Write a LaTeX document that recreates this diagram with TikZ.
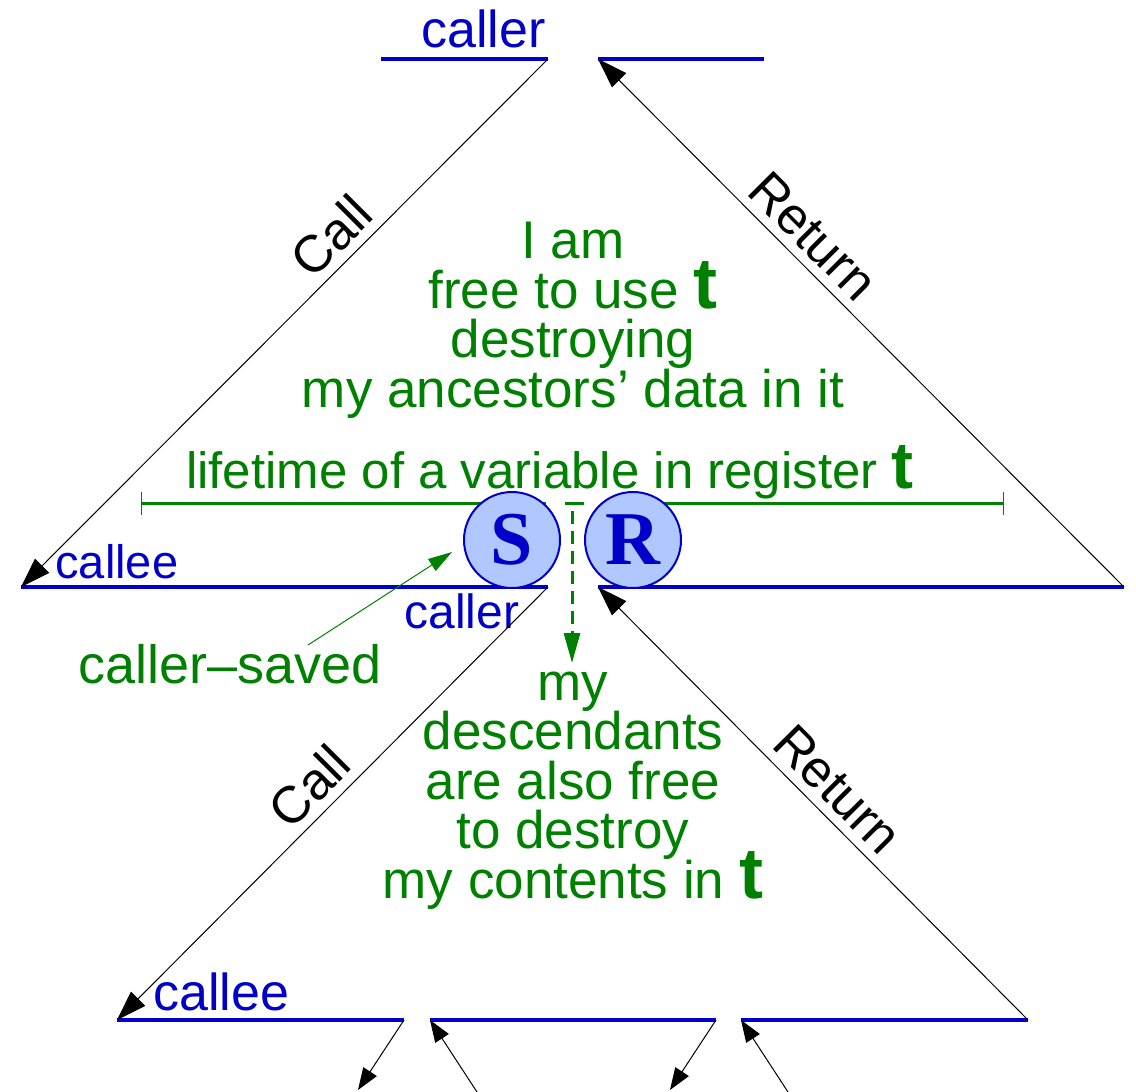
\documentclass[tikz,border=0pt]{standalone}
\usepackage{fontspec}
\setmainfont{Liberation Sans}
\newfontfamily\regserif{Liberation Serif}
\usepackage{xcolor}
\definecolor{FrameBlue}{RGB}{0,0,200}
\definecolor{NoteGreen}{RGB}{0,128,0}
\definecolor{RegFill}{RGB}{176,200,255}
\usetikzlibrary{arrows.meta}
\newcommand\regt[1][36]{\smash{\fontsize{#1}{#1}\selectfont\bfseries t}}

\begin{document}
\begin{tikzpicture}[
  x=0.5pt,y=-0.5pt,
  frame/.style={draw=FrameBlue,line width=2pt},
  flow/.style={{Triangle[length=15pt,width=10pt]}-,line width=0.5pt},
  stub/.style={-{Triangle[length=11pt,width=8pt]},line width=0.5pt},
  lbl/.style={font=\fontsize{26}{28}\selectfont,sloped,above,inner sep=4.5pt},
  who/.style={text=FrameBlue,inner sep=0pt,anchor=base west},
  note/.style={text=NoteGreen,font=\fontsize{26.5}{24.75}\selectfont,align=center,inner sep=0pt,anchor=base},
  life/.style={draw=NoteGreen,line width=1.5pt},
  reg/.style={circle,draw=FrameBlue,fill=RegFill,line width=1pt,minimum size=48pt,inner sep=0pt,text=FrameBlue,font=\regserif\bfseries\fontsize{38}{38}\selectfont}
]
\useasboundingbox (0,0) rectangle (1136,1092);

% stack frames
\coordinate (topL) at (381,59);
\coordinate (topA) at (548,59);
\coordinate (topB) at (598,59);
\coordinate (topR) at (764,59);
\coordinate (midL) at (21,587);
\coordinate (midA) at (548,587);
\coordinate (midB) at (598,587);
\coordinate (midR) at (1124,587);
\coordinate (botL) at (117,1020);
\coordinate (botA) at (404,1020);
\coordinate (botB) at (430,1020);
\coordinate (botC) at (716,1020);
\coordinate (botD) at (741,1020);
\coordinate (botR) at (1028,1020);
\coordinate (s1) at (358,1090);
\coordinate (s2) at (477,1092);
\coordinate (s3) at (670,1090);
\coordinate (s4) at (788,1092);

\draw[frame] (topL) -- (topA);
\draw[frame] (topB) -- (topR);
\draw[frame] (midL) -- (midA);
\draw[frame] (midB) -- (midR);
\draw[frame] (botL) -- (botA);
\draw[frame] (botB) -- (botC);
\draw[frame] (botD) -- (botR);

\node[who,font=\fontsize{26}{28}\selectfont] (callerTop) at (421,47) {caller};
\node[who,font=\fontsize{23.5}{28}\selectfont] (calleeMid) at (55,578) {callee};
\node[who,font=\fontsize{24}{28}\selectfont] (callerMid) at (404,628) {caller};
\node[who,font=\fontsize{26}{28}\selectfont] (calleeBot) at (153,1010) {callee};

% calls and returns
\draw[flow] (midL) -- node[lbl,pos=0.627] {Call} (topA);
\draw[flow] (topB) -- node[lbl,pos=0.372] {Return} (midR);
\draw[flow] (botL) -- node[lbl,pos=0.493] {Call} (midA);
\draw[flow] (midB) -- node[lbl,pos=0.512] {Return} (botR);
\draw[stub] (botA) -- (s1);
\draw[stub] (s2) -- (botB);
\draw[stub] (botC) -- (s3);
\draw[stub] (s4) -- (botD);

% lifetime of t
\coordinate (lifeL) at (141,503);
\coordinate (lifeSL) at (546,503);
\coordinate (dashL) at (565,503);
\coordinate (dashR) at (584,503);
\coordinate (lifeSR) at (602,503);
\coordinate (lifeR) at (1004,503);
\coordinate (dropA) at (572,511);
\coordinate (dropB) at (572,663);
\draw[life,{Bar[width=11.5pt,line width=0.5pt]}-] (lifeL) -- (lifeSL);
\draw[life] (dashL) -- (dashR);
\draw[life,-{Bar[width=11.5pt,line width=0.5pt]}] (lifeSR) -- (lifeR);
\draw[life,dash pattern=on 6.5pt off 3.5pt,-{Triangle[length=15pt,width=8pt]}] (dropA) -- (dropB);

\node[note] (freeNote) at (573,407) {I am\\free to use \regt\\destroying\\my ancestors’ data in it};
\node[note,font=\fontsize{25.5}{24.75}\selectfont] (lifeNote) at (550,488) {lifetime of a variable in register \regt[33]};
\node[note] (descNote) at (573,898) {my\\descendants\\are also free\\to destroy\\my contents in \regt};
\node[note,font=\fontsize{27}{24.75}\selectfont] (savedNote) at (230,683) {caller–saved};

\coordinate (saveTail) at (308,645);
\coordinate (saveTip) at (452,552);
\draw[draw=NoteGreen,line width=0.5pt,-{Triangle[length=12pt,width=7pt]}] (saveTail) -- (saveTip);

% save / restore
\node[reg] (save) at (512,540) {S};
\node[reg] (restore) at (633,540) {R};
\end{tikzpicture}
\end{document}
